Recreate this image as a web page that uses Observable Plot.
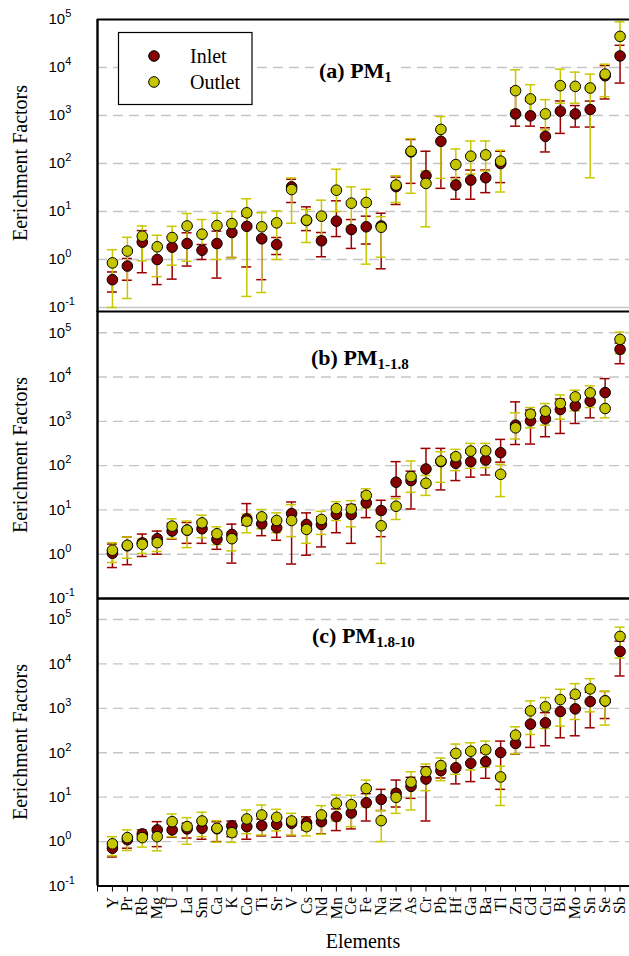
<!DOCTYPE html>
<html><head><meta charset="utf-8">
<script src="https://cdn.jsdelivr.net/npm/d3@7"></script>
<script src="https://cdn.jsdelivr.net/npm/@observablehq/plot@0.6"></script>
<style>
html,body{margin:0;padding:0;background:#fff;overflow:hidden}
#wrap{position:relative;width:629px;height:956px;overflow:hidden;background:#fff}
#wrap svg{position:absolute;left:0}
</style></head>
<body><div id="wrap"></div>
<script>
const elements = ["Y","Pr","Rb","Mg","U","La","Sm","Ca","K","Co","Ti","Sr","V","Cs","Nd","Mn","Ce","Fe","Na","Ni","As","Cr","Pb","Hf","Ga","Ba","Tl","Zn","Cd","Cu","Bi","Mo","Sn","Se","Sb"];
const decadeTicks = [0.1, 1, 10, 100, 1000, 10000, 100000];

// (a) PM1
const aInlet    = [0.38,0.73,2.3,1.0,1.81,2.15,1.56,2.15,3.65,4.9,2.7,2.05,32.6,6.5,2.45,6.3,4.2,4.8,5.0,33,175,55.6,290,35.6,45,50.5,100,1080,985,368,1230,1080,1330,6730,17400];
const aInletLo  = [0.21,0.37,0.53,0.30,0.39,0.73,1.0,0.41,1.1,0.70,0.38,1.27,15.4,4,1.14,3,1.7,2.1,0.64,14,38.6,35,30.4,18,18,24.7,40,600,600,174,424,574,575,2210,4740];
const aInletHi  = [0.55,1.05,4.0,1.7,3.0,3.6,2.05,3.9,5.5,8,4.5,2.87,47,12.5,3.65,16.7,6.8,8,9.2,52,316,180,500,51,73,73,180,3730,2000,556,2010,1610,2000,11000,29000];
const aOutlet   = [0.85,1.5,3.06,1.84,2.87,5.0,3.37,5.1,5.6,9.4,4.8,5.8,28.7,6.6,8.0,27.8,14.9,15.4,4.7,35.6,180,38.5,513,95,142,151,112,3290,2210,1080,4180,4040,3740,7280,44500];
const aOutletLo = [0.1,0.154,0.94,0.44,0.76,0.92,1.56,1.0,1.08,0.17,0.205,1.0,5.7,2.26,3,10,5,0.8,1.12,15.4,24,4.8,49,45,60,70,25.5,1300,1000,500,1800,1800,50.5,2470,20000];
const aOutletHi = [1.6,2.9,5.0,3.2,4.9,9.1,6.8,9.2,10,18.4,9.4,10.3,50,11,17.2,76,32.7,29,7.8,55.6,329,70,953,201,294,295,189,8950,4380,2140,9240,8000,7280,11700,89500];

// (b) PM1-1.8
const bInlet    = [1.05,1.55,1.8,2.24,3.33,3.5,3.76,2.17,2.8,6.3,4.86,3.95,8.3,4.7,4.7,8.0,7.9,14.4,9.7,42.3,46,84,123,113,123,134,196,820,1028,1140,1849,2237,2850,4460,42200];
const bInletLo  = [0.50,0.58,0.89,1.0,2.2,1.76,1.76,1.29,0.63,4.5,2.62,2.06,0.60,0.95,1.46,3.05,1.76,6.7,2.49,20,10.5,40,28.3,46,55,61.5,120,300,307,449,533,896,1200,2000,20000];
const bInletHi  = [1.7,2.45,2.85,3.33,5,5.2,5.5,3.2,4.78,13.9,7.5,6.0,15.1,8.57,7,12,13.2,25,16.5,123,75,245,245,180,190,200,391,2750,1800,1800,3200,3400,4300,9220,58500];
const bOutlet   = [1.23,1.59,1.67,1.82,4.3,3.5,5.1,2.9,2.24,5.57,6.97,5.77,5.77,3.63,6.08,10.7,10.5,21.3,4.38,12.1,56.7,40,127,159,213,216,63.7,714,1452,1698,2525,3565,4387,1950,70800];
const bOutletLo = [0.65,0.81,1.04,1.15,2.28,1.41,2.36,1.65,1.19,3.05,3.76,3.05,2.5,1.76,2.8,5.77,4.16,11.1,0.62,6.08,25,21.3,42,77,87,90,20,400,714,820,1120,1726,2050,1200,33700];
const bOutletHi = [1.82,2.44,2.2,2.5,6.3,5.6,7.6,4.16,3.2,8,10.2,8.57,13.2,5.3,9.3,15.4,16.2,30,8,17.9,127,60,206,233,318,318,107,1556,2050,2525,3955,5040,6310,4790,103500];

// (c) PM1.8-10
const cInlet    = [0.71,1.1,1.49,1.83,1.83,1.93,2.0,1.95,2.25,2.17,2.29,2.45,2.58,2.67,2.81,3.65,4.41,7.5,8.9,12.2,17.5,25.6,39.5,46,58,63,101,162,441,472,848,973,1420,1470,19100];
const cInletLo  = [0.45,0.71,1.1,0.77,1.25,1.2,1.13,1.0,1.29,1.13,1.34,1.25,1.34,1.83,1.5,1.77,1.93,2.91,5,6,9.4,2.91,27,19.9,22.4,26.6,15,93.5,132,144,217,241,365,590,5350];
const cInletHi  = [0.9,1.3,1.83,2.81,2.5,2.6,2.9,2.8,2.9,3,3.2,3.3,3.3,3.6,3.5,5.42,7,12,15,24.3,28,48.5,55,88.8,100,100,183,250,800,800,1600,1700,2300,2400,32600];
const cOutlet   = [0.89,1.23,1.23,1.29,2.81,2.17,2.91,2.0,1.59,3.23,3.97,3.52,2.91,2.17,3.97,7.27,6.78,15.6,2.96,9.9,21.8,37.4,51.5,96.7,108,117,28.5,249,877,1080,1574,2075,2735,1470,41600];
const cOutletLo = [0.48,0.63,0.75,0.62,1.29,0.87,1.29,0.97,0.96,1.5,1.41,1.74,1.41,1.34,1.46,2.91,2.17,6,1.0,4.33,5.15,14,23.5,32.7,40.9,47,6.5,95,258,352,397,561,833,419,13600];
const cOutletHi = [1.29,1.83,1.75,2.0,4.19,3.46,4.56,2.96,2.5,5.15,6.67,5.33,4.33,3.23,6.44,11.2,11,24.3,4.98,15,37.4,55.7,76,157,168,183,50,384,1470,1747,2690,3600,4660,2420,67300];

const inFill = "#850000", outFill = "#c6c600";
const inBar = "#9a0000", outBar = "#c8c800";
const serif = "'Liberation Serif','Times New Roman',serif";
const sans = "'Liberation Sans',Arial,sans-serif";

function buildRows(inl, inLo, inHi, out, outLo, outHi) {
  return elements.map((el, k) => ({pos: k + 1, el,
    inV: inl[k], inLo: inLo[k], inHi: inHi[k],
    outV: out[k], outLo: outLo[k], outHi: outHi[k]}));
}

function bars(rows, lo, hi, color) {
  return [
    Plot.ruleX(rows, {x: "pos", y1: lo, y2: hi, stroke: color, strokeWidth: 1.5}),
    Plot.ruleY(rows, {x1: "pos", x2: "pos", y: lo, stroke: color, strokeWidth: 1.5, insetLeft: -5, insetRight: -5}),
    Plot.ruleY(rows, {x1: "pos", x2: "pos", y: hi, stroke: color, strokeWidth: 1.5, insetLeft: -5, insetRight: -5})
  ];
}

function panel(rows, cfg) {
  const marks = [
    Plot.ruleY(cfg.grid, {stroke: "#c6c6c6", strokeWidth: 1.4, strokeDasharray: "10,6"}),
    Plot.ruleY([0.1], {stroke: cfg.bottomColor, strokeWidth: cfg.bottomWidth}),
    Plot.ruleY([cfg.yTop], {stroke: "black", strokeWidth: 2.2}),
    Plot.ruleX([0], {stroke: "black", strokeWidth: 2.4, insetBottom: cfg.axisExtend}),
    ...bars(rows, "inLo", "inHi", inBar),
    ...bars(rows, "outLo", "outHi", outBar),
    Plot.dot(rows, {x: "pos", y: "inV", r: 5.3, fill: inFill, stroke: "black", strokeWidth: 1}),
    Plot.dot(rows, {x: "pos", y: "outV", r: 5.3, fill: outFill, stroke: "black", strokeWidth: 1}),
    Plot.axisY({ticks: decadeTicks, tickSize: 5, tickPadding: 0, textAnchor: "start", dx: -44,
      tickFormat: d => "10^" + Math.round(Math.log10(d)), fontSize: 15, fill: "black", stroke: null, label: null})
  ];
  if (cfg.showX) {
    marks.push(Plot.axisX({ticks: d3.range(0, 36), tickSize: 6, tickPadding: 5, tickRotate: -90,
      tickFormat: i => i === 0 ? "" : elements[i - 1], fontFamily: serif, fontSize: 16, fill: "black", label: null}));
  }
  const svg = Plot.plot({
    width: 629, height: cfg.height,
    marginLeft: 97, marginRight: 0, marginTop: cfg.mTop, marginBottom: cfg.mBottom,
    style: {fontFamily: sans, fontSize: "15px", overflow: "visible", background: "transparent", color: "black"},
    x: {type: "linear", domain: [0, 36], range: [97, 634.5], axis: cfg.showX ? undefined : null},
    y: {type: "log", domain: [0.1, cfg.yTop]},
    marks
  });
  svg.style.top = cfg.top + "px";
  d3.select(svg).selectAll("text").each(function () {
    const m = /^10\^(-?\d+)$/.exec(this.textContent);
    if (!m) return;
    const s = d3.select(this);
    s.text(null);
    s.append("tspan").text("10");
    s.append("tspan").attr("dy", -7).attr("font-size", 11).text(m[1]);
  });
  return svg;
}

const wrap = document.getElementById("wrap");
wrap.appendChild(panel(buildRows(aInlet, aInletLo, aInletHi, aOutlet, aOutletLo, aOutletHi),
  {top: 0, height: 312, mTop: 19, mBottom: 5, yTop: 1e5, grid: [1, 10, 100, 1000, 10000],
   bottomColor: "#c6c6c6", bottomWidth: 1.4, axisExtend: -5, showX: false}));
wrap.appendChild(panel(buildRows(bInlet, bInletLo, bInletHi, bOutlet, bOutletLo, bOutletHi),
  {top: 306, height: 296, mTop: 5, mBottom: 4, yTop: Math.pow(10, 5.48), grid: [1, 10, 100, 1000, 10000, 100000],
   bottomColor: "black", bottomWidth: 2.2, axisExtend: 0, showX: false}));
wrap.appendChild(panel(buildRows(cInlet, cInletLo, cInletHi, cOutlet, cOutletLo, cOutletHi),
  {top: 593, height: 363, mTop: 5, mBottom: 70.5, yTop: Math.pow(10, 5.473), grid: [1, 10, 100, 1000, 10000, 100000],
   bottomColor: "black", bottomWidth: 2.2, axisExtend: 0, showX: true}));

// annotations overlay
const ov = d3.create("svg").attr("width", 629).attr("height", 956).style("top", "0px").style("overflow", "visible");
ov.append("rect").attr("x", 314).attr("y", 58).attr("width", 83).attr("height", 27).attr("fill", "white");
const titles = [
  {x: 319, y: 78, main: "(a) PM", sub: "1"},
  {x: 311, y: 365, main: "(b) PM", sub: "1-1.8"},
  {x: 312, y: 643, main: "(c) PM", sub: "1.8-10"}
];
for (const t of titles) {
  const tx = ov.append("text").attr("x", t.x).attr("y", t.y).attr("font-family", serif)
    .attr("font-weight", "bold").attr("font-size", 22).attr("fill", "black");
  tx.append("tspan").text(t.main);
  tx.append("tspan").attr("dy", 4).attr("font-size", 15).text(t.sub);
}
ov.append("rect").attr("x", 118.5).attr("y", 32.5).attr("width", 133.5).attr("height", 72)
  .attr("fill", "white").attr("stroke", "black").attr("stroke-width", 1.2);
const legendItems = [{label: "Inlet", fill: inFill, y: 56}, {label: "Outlet", fill: outFill, y: 82}];
for (const it of legendItems) {
  ov.append("circle").attr("cx", 154).attr("cy", it.y).attr("r", 5.3).attr("fill", it.fill).attr("stroke", "black");
  ov.append("text").attr("x", 190).attr("y", it.y + 7).attr("font-family", serif).attr("font-size", 20).text(it.label);
}
for (const cy of [163, 455, 742]) {
  ov.append("text").attr("transform", `translate(27,${cy}) rotate(-90)`).attr("text-anchor", "middle")
    .attr("font-family", serif).attr("font-size", 20).text("Eerichment Factors");
}
ov.append("text").attr("x", 363).attr("y", 948).attr("text-anchor", "middle")
  .attr("font-family", serif).attr("font-size", 20).text("Elements");
wrap.appendChild(ov.node());
</script>
</body></html>
